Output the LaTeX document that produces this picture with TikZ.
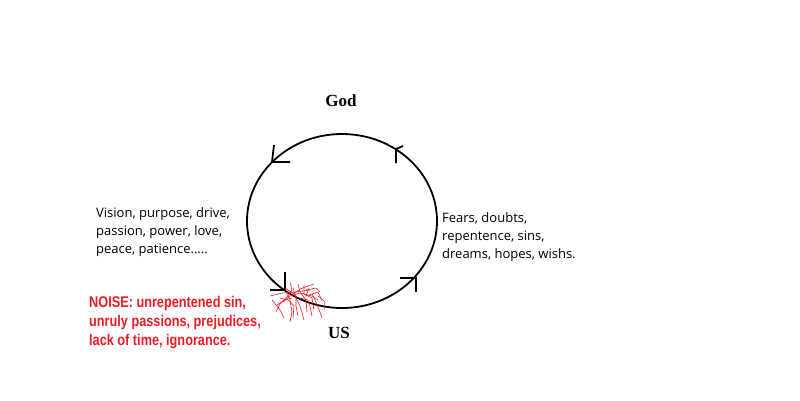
\documentclass[tikz,border=0pt]{standalone}
\usepackage{fontspec}
\setmainfont{Liberation Serif}
\newfontfamily\notefont{Open Sans}
\newfontfamily\noisefont[FakeStretch=0.82]{Liberation Sans}
\definecolor{paintred}{RGB}{237,28,36}
\begin{document}
\begin{tikzpicture}[x=1pt,y=-1pt,
  title/.style={font=\fontsize{17}{20}\selectfont\bfseries, inner sep=0pt},
  note/.style={font=\notefont\fontsize{13}{18.3}\selectfont, align=left, inner sep=0pt, anchor=north west},
  noise/.style={font=\noisefont\bfseries\fontsize{15.5}{19}\selectfont, text=paintred, align=left, inner sep=0pt, anchor=north west},
  ring/.style={draw=black, line width=1.8pt},
  head/.style={draw=black, line width=1.8pt},
  scrib/.style={draw=paintred, line width=0.6pt}]
\useasboundingbox (0,0) rectangle (800,400);
\fill[white] (0,0) rectangle (800,400);
% circle
\draw[ring] (342,221) ellipse [x radius=95, y radius=87];
% labels
\node[title] (god) at (341,101) {God};
\node[title] (us) at (339,333) {US};
\node[note] (left) at (96,207) {Vision, purpose, drive,\\passion, power, love,\\peace, patience.....};
\node[note] (right) at (442,212) {Fears, doubts,\\repentence, sins,\\dreams, hopes, wishs.};
\node[noise] (noise) at (89,296) {NOISE: unrepentened sin,\\unruly passions, prejudices,\\lack of time, ignorance.};
% arrowheads
\draw[head] (274,145) -- (272,162) -- (290,162);
\draw[head] (285,272) -- (285,290) -- (270,290);
\draw[head] (400,278) -- (416,278) -- (416,292);
\draw[head] (396,163) -- (396,149) -- (403,146);
% scribble
\draw[scrib] (270,296) -- (282,293) -- (295,292) -- (310,290);
\draw[scrib] (286,292) -- (290,300) -- (292,312) -- (290,322);
\draw[scrib] (293,288) -- (296,298) -- (300,306) -- (304,320);
\draw[scrib] (283,302) -- (290,296) -- (300,293) -- (312,296) -- (318,300);
\draw[scrib] (298,284) -- (300,292) -- (306,300) -- (307,312);
\draw[scrib] (304,285) -- (304,294) -- (312,298) -- (314,310);
\draw[scrib] (290,282) -- (292,290) -- (288,296) -- (280,304) -- (276,312);
\draw[scrib] (309,288) -- (306,296) -- (318,292) -- (322,300);
\draw[scrib] (296,296) -- (296,306) -- (298,316);
\draw[scrib] (312,294) -- (316,302) -- (320,312) -- (322,318);
\draw[scrib] (280,298) -- (288,300) -- (294,306) -- (293,318);
\draw[scrib] (300,298) -- (308,300) -- (310,306) -- (312,316);
\draw[scrib] (285,288) -- (294,294) -- (300,289) -- (308,286) -- (314,284);
\draw[scrib] (276,306) -- (284,300) -- (292,298);
\draw[scrib] (318,296) -- (325,302) -- (324,310);
\draw[scrib] (272,300) -- (280,310) -- (284,318);
\draw[scrib] (306,290) -- (316,288) -- (320,292);
\end{tikzpicture}
\end{document}
